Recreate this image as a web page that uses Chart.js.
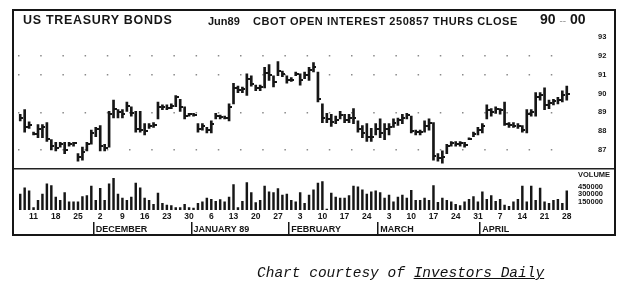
<!DOCTYPE html>
<html>
<head>
<meta charset="utf-8">
<script src="https://cdn.jsdelivr.net/npm/chart.js@4.4.1/dist/chart.umd.min.js"></script>
<style>
  html, body { margin: 0; padding: 0; background: #fff; }
  #wrap { position: relative; width: 630px; height: 288px; overflow: hidden; }
  #chart { position: absolute; left: 0; top: 0; }
  #frame { position: absolute; left: 12px; top: 9px; width: 604px; height: 227px; box-sizing: border-box;
           border: 2px solid #161616; pointer-events: none; }
  .hd { position: absolute; font-family: "Liberation Sans", Arial, sans-serif; font-weight: bold;
        color: #161616; white-space: nowrap; line-height: 14px; }
  #caption { position: absolute; left: 257px; top: 264px; font-family: "Liberation Mono", "DejaVu Sans Mono", monospace;
             font-style: italic; font-size: 14.5px; line-height: 18px; color: #111; white-space: nowrap; }
</style>
</head>
<body>
<div id="wrap">
  <canvas id="chart" width="630" height="288"></canvas>
  <div id="frame"></div>
  <div class="hd" style="left:23px; top:13px; font-size:12.5px; letter-spacing:0.7px;">US TREASURY BONDS</div>
  <div class="hd" style="left:208px; top:14px; font-size:11px;">Jun89</div>
  <div class="hd" style="left:253px; top:14px; font-size:11px; letter-spacing:0.55px;">CBOT OPEN INTEREST 250857 THURS CLOSE</div>
  <div class="hd" style="left:540px; top:12px; font-size:14px;">90 <span style="font-weight:normal;color:#999;font-size:10px;">--</span> 00</div>
  <div id="caption">Chart courtesy of <u>Investors Daily</u></div>
</div>
<script>
// weekly (Friday) day-of-month labels, Nov 1988 .. Apr 1989
const dayTicks = ['11','18','25','2','9','16','23','30','6','13','20','27','3','10','17','24','3','10','17','24','31','7','14','21','28'];
const firstFriday = 3;
const monthNames = ['DECEMBER', 'JANUARY 89', 'FEBRUARY', 'MARCH', 'APRIL'];
const monthStart = [17, 39, 61, 81, 104];

const priceTicks = [87, 88, 89, 90, 91, 92, 93];
const dottedPrice = [87, 89, 91, 92];
const volumeTicks = [150000, 300000, 450000, 670000];
const volumeTickText = ['150000', '300000', '450000', 'VOLUME'];

const highs = [
  88.90, 89.15, 88.50, 87.95, 88.35, 88.35, 88.45, 87.55, 87.40, 87.40,
  87.40, 87.40, 87.40, 86.80, 87.15, 87.40, 88.05, 88.20, 88.30, 87.30,
  89.05, 89.65, 89.15, 89.15, 89.55, 89.30, 89.05, 89.05, 88.40, 88.40,
  88.45, 89.55, 89.40, 89.40, 89.45, 89.90, 89.70, 89.30, 88.95, 88.95,
  88.40, 88.40, 88.20, 88.55, 88.95, 88.85, 88.80, 89.45, 90.55, 90.40,
  90.35, 91.05, 90.95, 90.45, 90.45, 91.40, 91.55, 90.95, 91.70, 91.20,
  90.95, 90.85, 91.15, 91.05, 91.15, 91.40, 91.65, 91.15, 89.45, 88.95,
  88.90, 88.80, 89.05, 88.90, 88.90, 89.20, 88.55, 88.30, 88.40, 88.15,
  88.40, 88.65, 88.40, 88.40, 88.65, 88.70, 88.90, 88.95, 88.80, 88.05,
  88.05, 88.55, 88.65, 88.45, 86.80, 86.95, 87.30, 87.45, 87.45, 87.45,
  87.40, 87.65, 87.95, 88.20, 88.40, 89.40, 89.20, 89.30, 89.20, 89.55,
  88.45, 88.45, 88.40, 88.30, 89.15, 89.15, 90.05, 90.05, 90.30, 89.65,
  89.70, 89.80, 90.15, 90.40
];
const lows = [
  88.55, 87.95, 88.15, 87.80, 87.65, 87.65, 87.45, 87.00, 86.95, 87.15,
  86.80, 87.20, 87.20, 86.40, 86.45, 86.95, 87.30, 87.70, 86.95, 86.95,
  87.15, 88.70, 88.70, 88.70, 89.05, 88.80, 87.95, 87.95, 87.80, 88.15,
  88.20, 88.65, 89.15, 89.15, 89.20, 89.30, 89.05, 88.65, 88.80, 88.80,
  87.95, 88.05, 87.90, 87.90, 88.65, 88.65, 88.65, 88.55, 89.45, 90.05,
  90.05, 89.90, 90.40, 90.15, 90.15, 90.30, 90.70, 90.35, 90.95, 90.90,
  90.55, 90.65, 90.95, 90.45, 90.80, 90.70, 91.15, 89.55, 88.45, 88.45,
  88.25, 88.40, 88.65, 88.45, 88.45, 88.40, 87.95, 87.65, 87.45, 87.45,
  87.80, 87.65, 87.55, 87.80, 88.20, 88.30, 88.40, 88.65, 87.90, 87.80,
  87.80, 87.95, 88.05, 86.45, 86.40, 86.30, 86.80, 87.20, 87.20, 87.20,
  87.15, 87.55, 87.70, 87.80, 87.90, 88.65, 88.80, 88.95, 88.90, 88.30,
  88.20, 88.20, 88.15, 87.95, 87.90, 88.80, 88.80, 89.65, 89.15, 89.20,
  89.40, 89.45, 89.55, 89.65
];
const closes = [
  88.70, 88.20, 88.35, 87.85, 88.10, 88.20, 87.60, 87.20, 87.10, 87.30,
  87.00, 87.30, 87.35, 86.60, 86.90, 87.30, 87.90, 88.10, 87.20, 87.10,
  88.90, 89.20, 89.00, 88.90, 89.35, 88.95, 88.10, 88.05, 88.00, 88.30,
  88.35, 89.30, 89.30, 89.25, 89.35, 89.80, 89.30, 88.80, 88.90, 88.85,
  88.10, 88.25, 88.05, 88.40, 88.80, 88.75, 88.70, 89.30, 90.30, 90.20,
  90.25, 90.80, 90.50, 90.30, 90.35, 91.10, 91.00, 90.60, 91.20, 91.05,
  90.70, 90.75, 91.05, 90.70, 91.00, 91.25, 91.40, 89.70, 88.70, 88.65,
  88.50, 88.60, 88.85, 88.60, 88.70, 88.70, 88.10, 87.90, 87.70, 87.70,
  88.10, 87.90, 88.10, 88.20, 88.45, 88.60, 88.70, 88.85, 88.00, 87.95,
  87.95, 88.30, 88.45, 86.70, 86.55, 86.60, 87.20, 87.35, 87.30, 87.35,
  87.25, 87.60, 87.85, 88.05, 88.25, 89.10, 89.00, 89.20, 89.10, 88.40,
  88.35, 88.30, 88.25, 88.05, 88.90, 89.00, 89.80, 89.90, 89.40, 89.50,
  89.60, 89.65, 89.90, 90.00
];
const volumes = [
  307000, 428000, 367000, 48000, 187000, 307000, 506000, 470000, 247000, 187000,
  337000, 157000, 157000, 157000, 259000, 277000, 458000, 187000, 416000, 187000,
  506000, 608000, 307000, 229000, 187000, 247000, 518000, 428000, 229000, 187000,
  108000, 325000, 127000, 96000, 84000, 48000, 48000, 108000, 48000, 36000,
  127000, 157000, 229000, 205000, 169000, 199000, 157000, 247000, 488000, 48000,
  169000, 530000, 337000, 145000, 187000, 458000, 349000, 337000, 410000, 289000,
  307000, 187000, 157000, 337000, 127000, 289000,
  386000, 518000, 548000, 20000, 325000, 247000, 229000, 229000, 277000, 458000,
  446000, 386000, 307000, 349000, 367000, 337000, 229000, 289000, 157000, 247000,
  289000, 229000, 380000, 187000, 187000, 229000, 187000, 470000, 150000, 229000,
  187000, 157000, 108000, 84000, 157000, 205000, 259000, 157000, 349000, 205000,
  277000, 169000, 205000, 96000, 72000, 157000, 205000, 460000, 157000, 460000,
  187000, 420000, 157000, 127000, 187000, 205000, 130000, 367000
];

// one slot per trading day, Friday slots carry the day label
const labels = highs.map((_, i) => (i - firstFriday) % 5 === 0 ? dayTicks[(i - firstFriday) / 5] : '');

const ink = '#161616';
const tickFont = (size) => ({ family: 'Liberation Sans', size: size, weight: 'bold' });

// close tick: little stub on the right of the bar
const closeMark = document.createElement('canvas');
closeMark.width = 6;
closeMark.height = 2;
const cm = closeMark.getContext('2d');
cm.fillStyle = ink;
cm.fillRect(3, 0, 3, 2);

const separator = {
  id: 'separator',
  afterDraw(chart) {
    const y = chart.scales.y.bottom;
    const c = chart.ctx;
    c.save();
    c.strokeStyle = '#222';
    c.lineWidth = 1.5;
    c.beginPath();
    c.moveTo(chart.chartArea.left - 4, y);
    c.lineTo(chart.scales.y.right + 1, y);
    c.stroke();
    c.restore();
  }
};

new Chart(document.getElementById('chart'), {
  type: 'bar',
  data: {
    labels: labels,
    datasets: [
      {
        type: 'bar',
        data: lows.map((lo, i) => [lo, highs[i]]),
        yAxisID: 'y',
        backgroundColor: ink,
        barThickness: 2,
        grouped: false
      },
      {
        type: 'line',
        data: closes,
        yAxisID: 'y',
        showLine: false,
        pointStyle: closeMark,
        pointRadius: 2,
        pointHoverRadius: 2
      },
      {
        type: 'bar',
        data: volumes,
        yAxisID: 'y2',
        backgroundColor: ink,
        barThickness: 1.8,
        grouped: false
      }
    ]
  },
  options: {
    responsive: false,
    animation: false,
    events: [],
    layout: { padding: { left: 18, right: 17, top: 22, bottom: 53 } },
    plugins: { legend: { display: false }, tooltip: { enabled: false } },
    scales: {
      x: {
        type: 'category',
        offset: true,
        grid: { display: false, drawTicks: false },
        border: { display: false },
        ticks: { autoSkip: false, maxRotation: 0, minRotation: 0, padding: 2, color: ink, font: tickFont(8.5) },
        afterFit: (s) => { s.height = 12; }
      },
      xm: {
        type: 'category',
        position: 'bottom',
        offset: true,
        grid: {
          drawOnChartArea: false,
          offset: true,
          tickLength: 12,
          lineWidth: 1.5,
          color: (ctx) => monthStart.includes(ctx.index) ? ink : 'rgba(0,0,0,0)'
        },
        border: { display: false },
        ticks: {
          autoSkip: false, maxRotation: 0, minRotation: 0, align: 'start', padding: -10,
          color: ink, font: tickFont(9),
          callback: (v, i) => {
            const m = monthStart.indexOf(i);
            return m >= 0 ? monthNames[m] : '';
          }
        },
        afterFit: (s) => { s.height = 13; }
      },
      y: {
        position: 'right',
        stack: 'panels',
        stackWeight: 144,
        min: 86,
        max: 93.2,
        afterBuildTicks: (s) => { s.ticks = priceTicks.map(v => ({ value: v })); },
        grid: {
          drawTicks: false,
          lineWidth: 1.5,
          color: (ctx) => ctx.tick && dottedPrice.includes(ctx.tick.value) ? '#8a8a8a' : 'rgba(0,0,0,0)'
        },
        border: { display: false, dash: [1.5, 20.7] },
        ticks: { autoSkip: false, padding: 29, color: ink, font: tickFont(7.5) },
        afterFit: (s) => { s.width = 44; }
      },
      y2: {
        position: 'right',
        stack: 'panels',
        stackWeight: 44,
        min: 0,
        max: 795000,
        afterBuildTicks: (s) => { s.ticks = volumeTicks.map(v => ({ value: v })); },
        grid: { display: false, drawTicks: false },
        border: { display: false },
        ticks: {
          autoSkip: false, padding: 9, color: ink, font: tickFont(7.5),
          callback: (v) => volumeTickText[volumeTicks.indexOf(v)]
        },
        afterFit: (s) => { s.width = 44; }
      }
    }
  },
  plugins: [separator]
});
</script>
</body>
</html>
